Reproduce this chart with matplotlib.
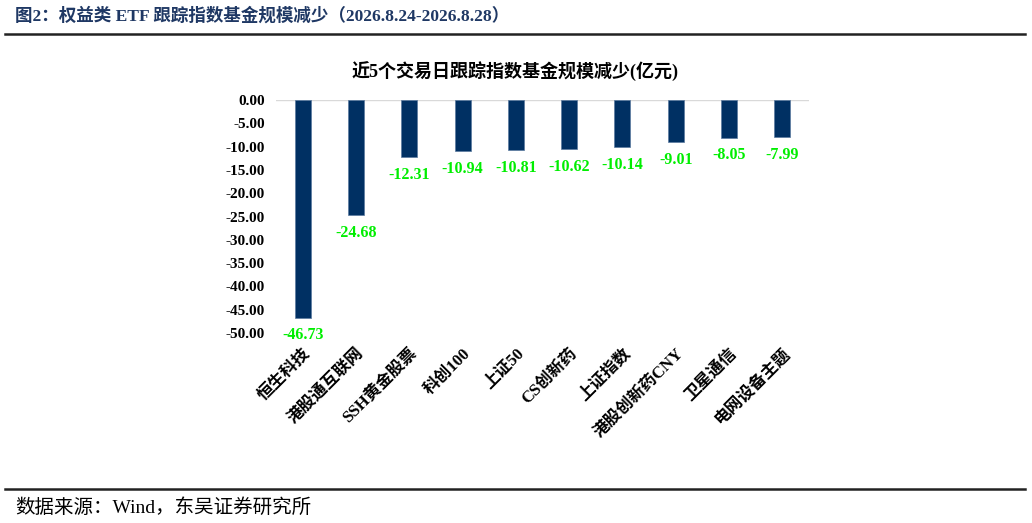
import matplotlib
matplotlib.use("Agg")
import matplotlib.pyplot as plt
from matplotlib.lines import Line2D

plt.rcParams['font.family'] = ['Liberation Serif', 'Noto Sans CJK SC', 'DejaVu Sans']
plt.rcParams['axes.unicode_minus'] = False

# data
names = ['恒生科技', '港股通互联网', 'SSH黄金股票', '科创100', '上证50',
         'CS创新药', '上证指数', '港股创新药CNY', '卫星通信', '电网设备主题']
values = [-46.73, -24.68, -12.31, -10.94, -10.81, -10.62, -10.14, -9.01, -8.05, -7.99]
yticks = [0, -5, -10, -15, -20, -25, -30, -35, -40, -45, -50]

fig = plt.figure(figsize=(10.32, 5.23), dpi=100)
W, H = 1032, 523

# header
fig.text(15 / W, 1 - 16 / H, '图2：权益类 ETF 跟踪指数基金规模减少（2026.8.24-2026.8.28）',
         fontsize=12.6, fontweight='bold', color='#1F3864', va='center', ha='left')
fig.add_artist(Line2D([5 / W, 1025 / W], [1 - 34 / H, 1 - 34 / H], color='#222222', lw=1.8))

# footer
fig.add_artist(Line2D([5 / W, 1025 / W], [1 - 489 / H, 1 - 489 / H], color='#222222', lw=1.8))
fig.text(15 / W, 1 - 508 / H, '数据来源：Wind，东吴证券研究所', fontsize=14,
         color='black', va='center', ha='left')

# chart title
fig.text(515 / W, 1 - 72 / H, '近5个交易日跟踪指数基金规模减少(亿元)', fontsize=13,
         fontweight='bold', va='center', ha='center')

ax = fig.add_axes([276 / W, 1 - 333 / H, 533 / W, 233 / H])
x = range(len(names))
bars = ax.bar(x, values, width=0.3, color='#003063', edgecolor='#5a7aa0', linewidth=0.5)
ax.set_xlim(-0.5, len(names) - 0.5)
ax.set_ylim(-50, 0)
ax.set_yticks(yticks)
ax.set_yticklabels(['%.2f' % v for v in yticks], fontsize=11, fontweight='bold')
ax.axhline(0, color='#d9d9d9', lw=1, zorder=0)

for i, v in enumerate(values):
    ax.annotate('%.2f' % v, (i, v), xytext=(0, -7), textcoords='offset points',
                ha='center', va='top', color='#00ee00', fontsize=11.5, fontweight='bold')

ax.set_xticks(list(x))
ax.set_xticklabels(names, rotation=45, ha='right', rotation_mode='anchor',
                   fontsize=12, fontweight='bold')
ax.tick_params(axis='both', length=0)
ax.tick_params(axis='x', pad=9)
ax.tick_params(axis='y', pad=8)
for s in ax.spines.values():
    s.set_visible(False)

fig.savefig('out.png', dpi=100)
